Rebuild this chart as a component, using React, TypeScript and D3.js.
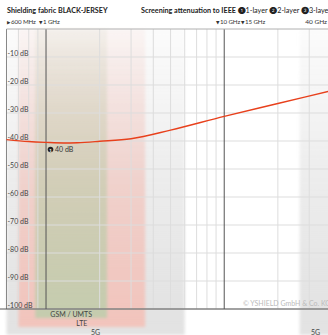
import React from "react";
import * as d3 from "d3";

const W = 328;
const H = 335;

// Frequencies in GHz
const curveFreq = [0.6, 0.8, 1, 1.25, 1.5, 2, 3, 5, 10, 20, 40];
const curveDb = [-39.5, -40.2, -40.5, -40.7, -40.6, -40.1, -39.2, -36.1, -31.2, -26.6, -22];

const dbTicks = [-10, -20, -30, -40, -50, -60, -70, -80, -90, -100];
const minorFreqs = [0.7, 0.8, 0.9, 2, 3, 4, 5, 6, 7, 8, 9, 20, 30, 40];
const majorFreqs = [1, 10];

const bandNames = ["5G", "5G", "LTE", "GSM / UMTS"];
const bandFrom = [0.6, 26.5, 0.7, 0.87];
const bandTo = [6, 40, 3.6, 2.2];
const bandColors = ["#e2e2e2", "#e2e2e2", "#f2c4bc", "#c4ccae"];
const bandBottom = [335, 335, 327, 318];
const bandLabelY = [335, 335, 326, 317];

const topMarks = ["▶", "▼", "▼", "▼"];
const topLabels = ["600 MHz", "1 GHz", "10 GHz", "15 GHz"];
const topLabelX = [7, 39, 216, 241];

export default function App() {
  const x = d3.scaleLog().domain([0.6, 40]).range([6.5, 331.5]);
  const y = d3.scaleLinear().domain([0, -100]).range([29, 309]);
  const line = d3
    .line<number>()
    .x((_, i) => x(curveFreq[i]))
    .y((d) => y(d))
    .curve(d3.curveMonotoneX);
  const font = "Lato, 'Open Sans', sans-serif";
  const plotL = x(0.6);
  return (
    <svg
      width={W}
      height={H}
      style={{ position: "absolute", left: 0, top: 0, background: "#fff" }}
      fontFamily={font}
    >
      <defs>
        {bandColors.map((c, i) => (
          <linearGradient key={i} id={"bg" + i} x1="0" y1="0" x2="0" y2="1">
            <stop offset="0" stopColor={c} stopOpacity={0.12} />
            <stop offset="0.55" stopColor={c} stopOpacity={0.7} />
            <stop offset="1" stopColor={c} stopOpacity={1} />
          </linearGradient>
        ))}
        <filter id="soft" x="-10%" y="-5%" width="120%" height="110%">
          <feGaussianBlur stdDeviation="1.5" />
        </filter>
      </defs>
      {bandNames.map((n, i) => (
        <rect
          key={"b" + i}
          x={x(bandFrom[i])}
          y={29}
          width={x(bandTo[i]) - x(bandFrom[i])}
          height={bandBottom[i] - 29}
          fill={`url(#bg${i})`}
          filter="url(#soft)"
        />
      ))}
      {dbTicks.map((d) => (
        <line key={"h" + d} x1={plotL} x2={W} y1={y(d)} y2={y(d)} stroke="#dddddd" strokeWidth={1} />
      ))}
      {minorFreqs.map((f) => (
        <line key={"v" + f} x1={x(f)} x2={x(f)} y1={29} y2={309} stroke="#dddddd" strokeWidth={1} />
      ))}
      {majorFreqs.map((f) => (
        <line key={"m" + f} x1={x(f)} x2={x(f)} y1={29} y2={309} stroke="#555" strokeWidth={1} />
      ))}
      <line x1={plotL} x2={plotL} y1={29} y2={309} stroke="#888" strokeWidth={1} />
      <line x1={plotL} x2={W} y1={29} y2={29} stroke="#b0b0b0" strokeWidth={1} />
      <line x1={0} x2={W} y1={309} y2={309} stroke="#555" strokeWidth={1} />
      {dbTicks.map((d) => (
        <text key={"t" + d} x={plotL + 1} y={y(d) - 1.5} fontSize={7} fill="#444">
          {d} dB
        </text>
      ))}
      <path d={line(curveDb) || ""} fill="none" stroke="#e8401c" strokeWidth={1.4} />
      <circle cx={50.5} cy={149.5} r={2.8} fill="#222" />
      <text x={50.5} y={151.8} fontSize={4.5} fill="#fff" textAnchor="middle" fontWeight="bold">
        1
      </text>
      <text x={55} y={152} fontSize={7} fill="#333">
        40 dB
      </text>
      {bandNames.map((n, i) => (
        <text
          key={"bl" + i}
          x={(x(bandFrom[i]) + x(bandTo[i])) / 2}
          y={bandLabelY[i]}
          fontSize={7}
          fill="#444"
          textAnchor="middle"
        >
          {n}
        </text>
      ))}
      <text x={243} y={306} fontSize={7} fill="#bbbbbb">
        © YSHIELD GmbH &amp; Co. KG
      </text>
      <text x={7} y={13} fontSize={7.2} fontWeight="bold" fill="#222">
        Shielding fabric BLACK-JERSEY
      </text>
      <text x={141} y={13} fontSize={7.2} fill="#222">
        <tspan fontWeight="bold">Screening attenuation to IEEE </tspan>
        <tspan>❶1-layer ❷2-layer ❸3-layer</tspan>
      </text>
      {topLabels.map((t, i) => (
        <text key={"tl" + i} x={topLabelX[i]} y={24} fontSize={6.2} fill="#333" letterSpacing={-0.1}>
          <tspan fontFamily="'DejaVu Sans'" fontSize={4.5}>
            {topMarks[i]}
          </tspan>
          <tspan dx={0.6}>{t}</tspan>
        </text>
      ))}
      <text x={327} y={24} fontSize={6.5} fill="#333" textAnchor="end">
        40 GHz
      </text>
    </svg>
  );
}
